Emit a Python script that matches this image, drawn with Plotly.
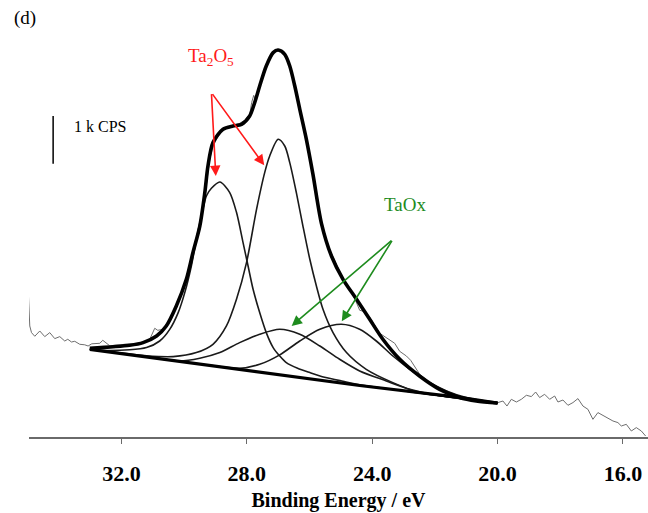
import plotly.graph_objects as go

# ---------------- data (binding energy in eV, intensity in kCPS above an arbitrary offset) ----------------
raw_be = [34.98, 34.925, 34.87, 34.766, 34.606, 34.447, 34.287, 34.128, 33.968, 33.809, 33.713, 33.595,
          33.49, 33.33, 33.171, 33.065, 32.948, 32.69, 32.597, 32.373, 31.895, 31.416, 31.097, 30.938,
          30.842, 30.683, 30.459, 30.14, 29.821, 29.502, 29.311, 29.184, 29.088, 28.864, 28.641, 28.418,
          28.226, 28.067, 27.907, 27.844, 27.78, 27.716, 27.589, 27.365, 27.174, 27.014, 26.791, 26.632,
          26.44, 26.313, 26.089, 25.898, 25.675, 25.42, 25.196, 24.909, 24.654, 24.504, 24.399, 24.271,
          24.08, 23.761, 23.388, 23.282, 23.123, 22.909, 22.772, 22.485, 22.166, 21.847, 21.528, 21.209,
          20.89, 20.571, 20.316, 19.987, 19.828, 19.7, 19.56, 19.4, 19.241, 19.081, 18.922, 18.785,
          18.657, 18.498, 18.338, 18.179, 18.073, 17.914, 17.754, 17.595, 17.435, 17.276, 17.117, 16.957,
          16.798, 16.638, 16.479, 16.319, 16.16, 16.051, 15.892, 15.732, 15.573, 15.413, 15.276]
raw_int = [3.168, 2.329, 2.19, 2.113, 2.224, 2.106, 2.19, 2.064, 2.106, 2.014, 2.05, 1.993,
           2.008, 1.945, 1.934, 1.909, 1.955, 1.966, 2.029, 1.913, 1.945, 1.955, 2.05, 2.281,
           2.238, 2.259, 2.469, 2.889, 3.56, 4.441, 5.196, 5.826, 6.077, 6.392, 6.497, 6.539,
           6.581, 6.644, 6.77, 7.021, 7.168, 7.063, 7.378, 7.797, 8.07, 8.133, 8.028, 7.777,
           7.336, 6.916, 6.245, 5.574, 4.672, 4.021, 3.686, 3.287, 3.057, 2.826, 2.658, 2.637,
           2.511, 2.176, 2.014, 1.966, 1.798, 1.699, 1.609, 1.315, 1.148, 1.043, 0.938, 0.854,
           0.791, 0.781, 0.749, 0.722, 0.755, 0.65, 0.791, 0.734, 0.791, 0.875, 0.848, 0.944,
           0.827, 0.896, 0.791, 0.86, 0.734, 0.776, 0.665, 0.722, 0.806, 0.65, 0.581, 0.371,
           0.512, 0.455, 0.407, 0.336, 0.302, 0.231, 0.266, 0.126, 0.197, 0.126, 0.021]

env_be = [33.01, 31.74, 31.31, 30.88, 30.57, 30.25, 29.93, 29.72, 29.50, 29.34, 29.24, 29.08, 28.76,
          28.44, 28.17, 27.91, 27.75, 27.59, 27.38, 27.16, 27.00, 26.79, 26.63, 26.47, 26.31, 26.10,
          25.89, 25.62, 25.30, 24.93, 24.50, 24.08, 23.66, 23.12, 22.49, 21.85, 21.21, 20.68, 20.00]
env_int = [1.86, 1.924, 1.98, 2.119, 2.329, 2.748, 3.308, 3.868, 4.426, 5.127, 5.685, 6.176, 6.455,
           6.524, 6.56, 6.734, 7.015, 7.363, 7.783, 8.064, 8.118, 8.028, 7.783, 7.363, 6.874, 6.245,
           5.51, 4.483, 3.797, 3.308, 2.889, 2.469, 2.05, 1.63, 1.28, 1.001, 0.827, 0.755, 0.712]

# Ta2O5 4f5/2
p1_be = [33.01, 32.69, 31.74, 31.20, 30.78, 30.46, 30.19, 29.98, 29.77, 29.61, 29.45, 29.29, 29.13,
         28.86, 28.55, 28.33, 28.12, 27.96, 27.80, 27.59, 27.38, 27.16, 26.95, 26.74, 26.38, 25.99,
         25.52, 24.93, 24.24, 22.0, 20.0]
p1_int = [1.84, 1.82, 1.83, 1.876, 2.014, 2.259, 2.61, 3.029, 3.587, 4.147, 4.636, 5.056, 5.217,
          5.349, 5.133, 4.714, 4.078, 3.587, 3.099, 2.61, 2.19, 1.876, 1.699, 1.561, 1.441, 1.351,
          1.253, 1.169, 1.08, 0.881, 0.707]

# Ta2O5 4f7/2
p2_be = [33.01, 32.27, 31.20, 30.35, 29.61, 29.08, 28.65, 28.33, 28.01, 27.69, 27.43, 27.27, 27.00,
         26.79, 26.63, 26.42, 26.21, 25.99, 25.78, 25.57, 25.25, 24.82, 24.19, 23.34, 22.49, 21.2, 20.0]
p2_int = [1.84, 1.78, 1.703, 1.687, 1.771, 1.945, 2.329, 2.889, 3.659, 4.777, 5.547, 5.895, 6.245,
          6.105, 5.756, 5.127, 4.426, 3.728, 3.168, 2.679, 2.19, 1.771, 1.42, 1.141, 0.932, 0.812, 0.707]

# TaOx (higher BE component)
ox1_be = [33.01, 31.10, 30.14, 29.50, 28.86, 28.23, 27.59, 26.95, 26.31, 25.67, 25.04, 24.40, 23.55,
          22.80, 21.85, 20.0]
ox1_int = [1.84, 1.672, 1.594, 1.651, 1.771, 1.98, 2.155, 2.259, 2.155, 1.909, 1.63, 1.385, 1.175,
           1.001, 0.868, 0.707]

# TaOx (lower BE component)
ox2_be = [33.01, 29.50, 28.23, 27.59, 26.95, 26.31, 25.67, 24.98, 24.40, 23.87, 23.34, 22.80, 22.27,
          21.63, 21.00, 20.0]
ox2_int = [1.84, 1.533, 1.44, 1.525, 1.724, 2.014, 2.259, 2.364, 2.259, 2.014, 1.699, 1.42, 1.175,
           0.965, 0.827, 0.707]

# background
bg_be = [33.01, 30.14, 26.95, 24.40, 21.21, 20.0]
bg_int = [1.84, 1.59, 1.31, 1.08, 0.83, 0.71]

tick_vals = [32.0, 28.0, 24.0, 20.0, 16.0]
tick_text = ["32.0", "28.0", "24.0", "20.0", "16.0"]

# annotations (data coordinates)
ta2o5_label = (29.15, 7.965)
ta2o5_origin = (29.13, 7.225)
ta2o5_tips = [(28.99, 5.475), (27.445, 5.70)]
taox_label = (22.96, 4.882)
taox_origin = (23.34, 4.147)
taox_tips = [(26.57, 2.329), (24.97, 2.427)]
scale_x = 34.18
scale_y0 = 5.735
scale_len = 1.0  # 1 k CPS
scale_label = (33.58, 6.52)

SERIF = "Liberation Serif, Times New Roman, serif"
RED = "#ff1a1a"
GREEN = "#1e8c1e"

fig = go.Figure()
fig.add_trace(go.Scatter(x=raw_be, y=raw_int, mode="lines",
                         line=dict(color="#6e6e6e", width=1), hoverinfo="skip"))
for bx, by in [(p1_be, p1_int), (p2_be, p2_int), (ox1_be, ox1_int), (ox2_be, ox2_int)]:
    fig.add_trace(go.Scatter(x=bx, y=by, mode="lines",
                             line=dict(color="#1a1a1a", width=1.6, shape="spline", smoothing=0.8),
                             hoverinfo="skip"))
fig.add_trace(go.Scatter(x=bg_be, y=bg_int, mode="lines",
                         line=dict(color="#000000", width=3.2), hoverinfo="skip"))
fig.add_trace(go.Scatter(x=env_be, y=env_int, mode="lines",
                         line=dict(color="#000000", width=3.6, shape="spline", smoothing=0.8),
                         hoverinfo="skip"))

# scale bar
fig.add_shape(type="line", xref="x", yref="y", x0=scale_x, x1=scale_x,
              y0=scale_y0, y1=scale_y0 + scale_len, line=dict(color="black", width=1.5))
fig.add_annotation(x=scale_label[0], y=scale_label[1], xref="x", yref="y", text="1 k CPS",
                   showarrow=False, xanchor="left", yanchor="middle",
                   font=dict(family=SERIF, size=16, color="black"))

# labels and arrows
fig.add_annotation(x=ta2o5_label[0], y=ta2o5_label[1], xref="x", yref="y",
                   text="Ta<sub>2</sub>O<sub>5</sub>", showarrow=False,
                   font=dict(family=SERIF, size=19, color=RED))
for tx, ty in ta2o5_tips:
    fig.add_annotation(x=tx, y=ty, ax=ta2o5_origin[0], ay=ta2o5_origin[1], xref="x", yref="y",
                       axref="x", ayref="y", text="", showarrow=True, arrowhead=2,
                       arrowsize=1.3, arrowwidth=1.6, arrowcolor=RED)
fig.add_annotation(x=taox_label[0], y=taox_label[1], xref="x", yref="y", text="TaOx",
                   showarrow=False, font=dict(family=SERIF, size=19, color=GREEN))
for tx, ty in taox_tips:
    fig.add_annotation(x=tx, y=ty, ax=taox_origin[0], ay=taox_origin[1], xref="x", yref="y",
                       axref="x", ayref="y", text="", showarrow=True, arrowhead=2,
                       arrowsize=1.3, arrowwidth=1.6, arrowcolor=GREEN)

fig.add_annotation(x=-0.0065, y=0.977, xref="paper", yref="paper", text="(d)", showarrow=False,
                   xanchor="center", yanchor="middle",
                   font=dict(family=SERIF, size=19, color="black"))

fig.update_layout(
    width=648, height=513,
    margin=dict(l=29, r=0, t=8, b=76),
    paper_bgcolor="white", plot_bgcolor="white",
    showlegend=False,
    xaxis=dict(range=[34.95, 15.2], tickvals=tick_vals, ticktext=tick_text,
               showline=True, linecolor="#6a6a6a", linewidth=1.5,
               ticks="outside", ticklen=5, tickwidth=1.3, tickcolor="#6a6a6a",
               showgrid=False, zeroline=False, ticklabelstandoff=11,
               tickfont=dict(family=SERIF, size=22, color="black", weight="bold"),
               title=dict(text="Binding Energy / eV", standoff=8,
                          font=dict(family=SERIF, size=20, color="black", weight="bold"))),
    yaxis=dict(range=[0, 9.0], visible=False, showgrid=False, zeroline=False),
)

fig.write_html("out.html")
